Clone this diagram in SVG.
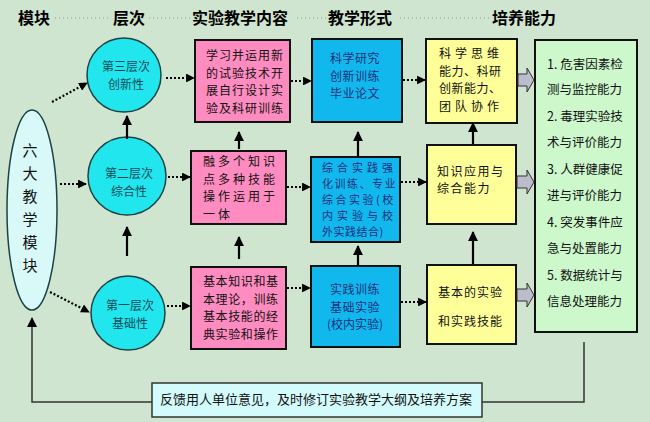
<svg xmlns="http://www.w3.org/2000/svg" width="650" height="422" viewBox="0 0 650 422">
<defs>
<marker id="ah" viewBox="0 0 10 10" refX="9" refY="5" markerWidth="4" markerHeight="4" markerUnits="strokeWidth" orient="auto">
<path d="M0,0 L10,5 L0,10 z" fill="#000"/>
</marker>
<marker id="ah2" viewBox="0 0 10 10" refX="9" refY="5" markerWidth="4.5" markerHeight="4.5" markerUnits="strokeWidth" orient="auto">
<path d="M0,0 L10,5 L0,10 z" fill="#000"/>
</marker>
<marker id="ahf" viewBox="0 0 10 10" refX="9" refY="5" markerWidth="7" markerHeight="7" markerUnits="strokeWidth" orient="auto">
<path d="M0,0 L10,5 L0,10 z" fill="#000"/>
</marker>
</defs>
<style>
text{font-family:"Noto Sans CJK SC","Liberation Sans",sans-serif;}
.hd{font-size:16px;font-weight:bold;fill:#000;}
.t{font-size:12px;fill:#111;}
.g{font-size:12.5px;fill:#111;}
.tb{font-size:12px;fill:#1a2f7a;}
.tm{font-size:11px;fill:#1a2f7a;}
.tc{font-size:12px;fill:#0d4b5a;}
.el{font-size:15px;fill:#111;}
.box{stroke:#111;stroke-width:2;}
.pink{fill:#ff8cc0;}
.blue{fill:#11b8ee;}
.yel{fill:#ffff99;}
.cir{fill:#22e6ee;stroke:#1a4444;stroke-width:1.5;}
.dot{stroke:#000;stroke-width:2.2;stroke-dasharray:2 2;fill:none;marker-end:url(#ah);}
.sol{stroke:#000;stroke-width:2.2;fill:none;marker-end:url(#ah2);}
.hdot{stroke:#999;stroke-width:1;stroke-dasharray:1 3;}
.fat{fill:#bcbccc;stroke:#333;stroke-width:1;}
.fb{stroke:#333;stroke-width:1.5;fill:none;}
</style>
<rect width="650" height="422" fill="#cfe5cf"/>

<g id="headers">
<line class="hdot" x1="55" y1="18" x2="111" y2="18"/>
<line class="hdot" x1="149" y1="18" x2="190" y2="18"/>
<line class="hdot" x1="297" y1="18" x2="326" y2="18"/>
<line class="hdot" x1="400" y1="18" x2="490" y2="18"/>
<text class="hd" x="18" y="24">模块</text>
<text class="hd" x="113" y="24">层次</text>
<text class="hd" x="192" y="24">实验教学内容</text>
<text class="hd" x="328" y="24">教学形式</text>
<text class="hd" x="492" y="24">培养能力</text>
</g>

<g id="module">
<ellipse cx="32" cy="210" rx="25" ry="100" fill="#d9f8f8" stroke="#1a4444" stroke-width="1.5"/>
<text class="el" x="30" y="156" text-anchor="middle">六</text>
<text class="el" x="30" y="179" text-anchor="middle">大</text>
<text class="el" x="30" y="202" text-anchor="middle">教</text>
<text class="el" x="30" y="225" text-anchor="middle">学</text>
<text class="el" x="30" y="248" text-anchor="middle">模</text>
<text class="el" x="30" y="271" text-anchor="middle">块</text>
</g>

<g id="level3">
<circle class="cir" cx="124" cy="75" r="37"/>
<text class="tc" x="126" y="71" text-anchor="middle">第三层次</text>
<text class="tc" x="126" y="88.5" text-anchor="middle">创新性</text>
</g>
<g id="level2">
<circle class="cir" cx="127" cy="176" r="39"/>
<text class="tc" x="129" y="178" text-anchor="middle">第二层次</text>
<text class="tc" x="129" y="195.5" text-anchor="middle">综合性</text>
</g>
<g id="level1">
<circle class="cir" cx="128" cy="313" r="37"/>
<text class="tc" x="130" y="310" text-anchor="middle">第一层次</text>
<text class="tc" x="130" y="327.5" text-anchor="middle">基础性</text>
</g>

<g id="content3">
<rect class="box pink" x="195" y="40" width="95" height="82"/>
<text class="t" x="206" y="60" letter-spacing="1">学习并运用新</text>
<text class="t" x="206" y="77.5" letter-spacing="1">的试验技术开</text>
<text class="t" x="206" y="95" letter-spacing="1">展自行设计实</text>
<text class="t" x="206" y="112.5" letter-spacing="1">验及科研训练</text>
</g>
<g id="content2">
<rect class="box pink" x="191" y="151" width="95" height="73"/>
<text class="t" x="203" y="166" letter-spacing="3">融多个知识</text>
<text class="t" x="203" y="183.5" letter-spacing="3">点多种技能</text>
<text class="t" x="203" y="201" letter-spacing="3">操作运用于</text>
<text class="t" x="203" y="218.5" letter-spacing="3">一体</text>
</g>
<g id="content1">
<rect class="box pink" x="191" y="267" width="95" height="82"/>
<text class="t" x="203" y="286" letter-spacing="0.6">基本知识和基</text>
<text class="t" x="203" y="303.5" letter-spacing="0.6">本理论，训练</text>
<text class="t" x="203" y="321" letter-spacing="0.6">基本技能的经</text>
<text class="t" x="203" y="338.5" letter-spacing="0.6">典实验和操作</text>
</g>

<g id="form3">
<rect class="box blue" x="312" y="39" width="90" height="83"/>
<text class="tb" x="355" y="63" text-anchor="middle" letter-spacing="0.5">科学研究</text>
<text class="tb" x="355" y="80.5" text-anchor="middle" letter-spacing="0.5">创新训练</text>
<text class="tb" x="355" y="98" text-anchor="middle" letter-spacing="0.5">毕业论文</text>
</g>
<g id="form2">
<rect class="box blue" x="311" y="157" width="89" height="85"/>
<text class="tm" x="322" y="172" letter-spacing="4">综合实践强</text>
<text class="tm" x="322" y="188" letter-spacing="1.5">化训练、专业</text>
<text class="tm" x="322" y="204" letter-spacing="2.5">综合实验(校</text>
<text class="tm" x="322" y="220" letter-spacing="4">内实验与校</text>
<text class="tm" x="322" y="236" letter-spacing="0.5">外实践结合)</text>
</g>
<g id="form1">
<rect class="box blue" x="311" y="266" width="89" height="81"/>
<text class="tb" x="355" y="294" text-anchor="middle" letter-spacing="0.5">实践训练</text>
<text class="tb" x="355" y="311.5" text-anchor="middle" letter-spacing="0.5">基础实验</text>
<text class="tb" x="355" y="329" text-anchor="middle">(校内实验)</text>
</g>

<g id="ability3">
<rect class="box yel" x="426" y="39" width="91" height="84"/>
<text class="t" x="439" y="58" letter-spacing="4">科学思维</text>
<text class="t" x="439" y="75.5" letter-spacing="0.5">能力、科研</text>
<text class="t" x="439" y="93" letter-spacing="0.5">创新能力、</text>
<text class="t" x="439" y="110.5" letter-spacing="4">团队协作</text>
</g>
<g id="ability2">
<rect class="box yel" x="427" y="145" width="89" height="79"/>
<text class="t" x="437" y="176" letter-spacing="1.5">知识应用与</text>
<text class="t" x="437" y="193" letter-spacing="1.5">综合能力</text>
</g>
<g id="ability1">
<rect class="box yel" x="427" y="265" width="89" height="79"/>
<text class="t" x="438" y="297" letter-spacing="1">基本的实验</text>
<text class="t" x="438" y="326" letter-spacing="1">和实践技能</text>
</g>

<g id="outcomes">
<rect class="box" x="535" y="40" width="102" height="292" fill="#ccf8cc"/>
<text class="g" x="547" y="69">1. 危害因素检</text>
<text class="g" x="547" y="94">测与监控能力</text>
<text class="g" x="547" y="121">2. 毒理实验技</text>
<text class="g" x="547" y="147">术与评价能力</text>
<text class="g" x="547" y="174">3. 人群健康促</text>
<text class="g" x="547" y="200">进与评价能力</text>
<text class="g" x="547" y="227">4. 突发事件应</text>
<text class="g" x="547" y="253">急与处置能力</text>
<text class="g" x="547" y="280">5. 数据统计与</text>
<text class="g" x="547" y="306">信息处理能力</text>
</g>

<g id="feedback">
<rect x="152" y="383" width="330" height="34" fill="#d4fbfb" stroke="#333" stroke-width="1.5"/>
<text x="160" y="404" font-size="13" fill="#111">反馈用人单位意见，及时修订实验教学大纲及培养方案</text>
</g>

<g id="connectors">
<line class="dot" x1="52" y1="102" x2="87" y2="83"/>
<line class="dot" x1="60" y1="184" x2="86" y2="184"/>
<line class="dot" x1="50" y1="292" x2="89" y2="312"/>

<line class="dot" x1="166" y1="78" x2="194" y2="78"/>
<line class="dot" x1="168" y1="177" x2="190" y2="177"/>
<line class="dot" x1="167" y1="306" x2="190" y2="306"/>

<line class="dot" x1="291" y1="81" x2="311" y2="81"/>
<line class="dot" x1="287" y1="187" x2="310" y2="187"/>
<line class="dot" x1="287" y1="288" x2="310" y2="288"/>

<line class="dot" x1="403" y1="80" x2="425" y2="80"/>
<line class="dot" x1="401" y1="182" x2="426" y2="182"/>
<line class="dot" x1="401" y1="302" x2="426" y2="302"/>

<line class="sol" x1="127" y1="139" x2="127" y2="116"/>
<line class="sol" x1="127" y1="256" x2="127" y2="227"/>
<line class="sol" x1="239" y1="149" x2="239" y2="132"/>
<line class="sol" x1="239" y1="259" x2="239" y2="237"/>
<line class="sol" x1="358" y1="156" x2="358" y2="132"/>
<line class="sol" x1="358" y1="265" x2="358" y2="246"/>
<line class="sol" x1="473" y1="144" x2="473" y2="123"/>
<line class="sol" x1="473" y1="264" x2="473" y2="232"/>

<path class="fat" d="M518,74 H527 V68 L534,80 L527,92 V86 H518 Z"/>
<path class="fat" d="M517,176 H527 V170 L534,182 L527,194 V188 H517 Z"/>
<path class="fat" d="M517,289 H527 V283 L534,295 L527,307 V301 H517 Z"/>

<polyline class="fb" points="584,342 584,402 482,402"/>
<polyline class="fb" points="152,402 32,402 32,318" marker-end="url(#ahf)"/>
</g>
</svg>
